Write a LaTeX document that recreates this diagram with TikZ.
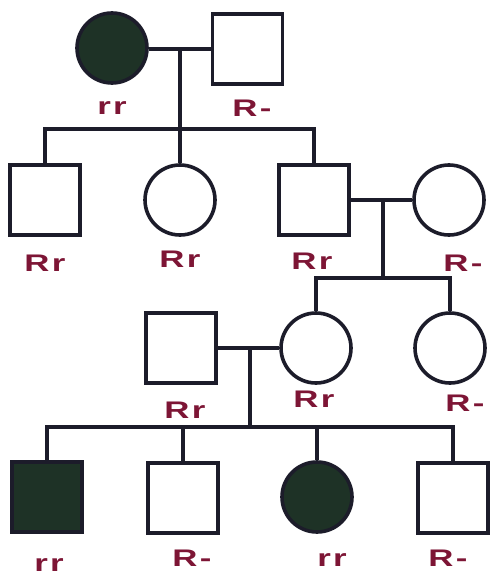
\documentclass[tikz,border=0pt]{standalone}
\usepackage{fontspec}
\newfontfamily\hand[FakeStretch=1.45,LetterSpace=10]{Liberation Sans}
\definecolor{linec}{HTML}{1C1C2A}
\definecolor{fillc}{HTML}{1E3226}
\definecolor{labc}{HTML}{7D1535}
\begin{document}
\begin{tikzpicture}[x=1pt,y=-1pt,
  conn/.style={draw=linec, line width=3.6pt},
  female/.style={circle, draw=linec, line width=3.6pt, minimum size=70pt, inner sep=0pt, fill=white},
  male/.style={rectangle, draw=linec, line width=3.6pt, minimum size=70pt, inner sep=0pt, fill=white},
  affected/.style={fill=fillc},
  lab/.style={text=labc, font=\hand\bfseries\fontsize{24}{27}\selectfont, inner sep=0pt, anchor=center}]
\fill[white] (0,0) rectangle (491,578);
\useasboundingbox (0,0) rectangle (491,578);
% generation I
\node[female, affected] (c1) at (112,48) {};
\node[male] (s1) at (247.5,49) {};
% generation II
\node[male] (a) at (45,200) {};
\node[female] (b) at (180,200) {};
\node[male] (c) at (314,200) {};
\node[female] (d) at (449,200) {};
% generation III
\node[male] (e) at (181,348) {};
\node[female] (f) at (316,348) {};
\node[female] (g) at (450,348) {};
% generation IV
\node[male, affected] (h) at (47,497) {};
\node[male] (i) at (183,498) {};
\node[female, affected] (j) at (317,497) {};
\node[male] (k) at (453,498) {};
% junctions
\coordinate (m1) at (180,49);
\coordinate (j1) at (180,129);
\coordinate (m2) at (383,200);
\coordinate (j2) at (383,278);
\coordinate (m3) at (250,348);
\coordinate (j3) at (250,427);
% connectors
\draw[conn] (c1.east |- m1) -- (m1) -- (s1.west);
\draw[conn] (m1) -- (b.north);
\draw[conn] (a.north) |- (j1) -| (c.north);
\draw[conn] (c.east) -- (m2) -- (d.west);
\draw[conn] (m2) -- (j2);
\draw[conn] (f.north) |- (j2) -| (g.north);
\draw[conn] (e.east) -- (m3) -- (f.west);
\draw[conn] (m3) -- (j3);
\draw[conn] (h.north) |- (j3) -| (k.north);
\draw[conn] (i.north) |- (j3);
\draw[conn] (j.north) |- (j3);
% labels
\node[lab] (l1) at (112,108) {rr};
\node[lab] (l2) at (252,108) {R-};
\node[lab] (l3) at (45,263) {Rr};
\node[lab] (l4) at (180,259) {Rr};
\node[lab] (l5) at (312,261) {Rr};
\node[lab] (l6) at (463,263) {R-};
\node[lab] (l7) at (185,410) {Rr};
\node[lab] (l8) at (314,399) {Rr};
\node[lab] (l9) at (465,403) {R-};
\node[lab] (l10) at (49,565) {rr};
\node[lab] (l11) at (192,558) {R-};
\node[lab] (l12) at (332,560) {rr};
\node[lab] (l13) at (448,558) {R-};
\end{tikzpicture}
\end{document}
